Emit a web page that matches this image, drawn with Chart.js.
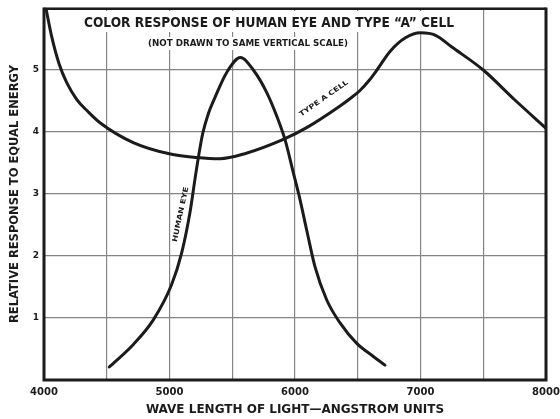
<!DOCTYPE html>
<html>
<head>
<meta charset="utf-8">
<script src="https://cdn.jsdelivr.net/npm/chart.js@4.4.1/dist/chart.umd.min.js"></script>
<style>
html,body{margin:0;padding:0;background:#fff;overflow:hidden;}
canvas{display:block;}
</style>
</head>
<body>
<canvas id="responseChart" width="560" height="419"></canvas>
<script>
// wave length (angstrom) / relative response
const eyeWave = [4520, 4710, 4871, 5017, 5097, 5163, 5203, 5230, 5265, 5310, 5363, 5456, 5565, 5668, 5774, 5854, 5920, 5987, 6040, 6093, 6159, 6253, 6359, 6492, 6624, 6717];
const eyeResp = [0.21, 0.57, 0.97, 1.54, 2.05, 2.7, 3.24, 3.59, 3.98, 4.3, 4.56, 4.96, 5.2, 5.0, 4.64, 4.26, 3.88, 3.34, 2.91, 2.42, 1.83, 1.29, 0.92, 0.59, 0.38, 0.24];

const cellWave = [4015, 4060, 4120, 4180, 4263, 4350, 4446, 4711, 5017, 5216, 5402, 5600, 5907, 6093, 6359, 6440, 6518, 6590, 6653, 6757, 6880, 7000, 7120, 7250, 7500, 7750, 8000];
const cellResp = [6.0, 5.55, 5.1, 4.8, 4.52, 4.33, 4.15, 3.83, 3.64, 3.59, 3.57, 3.65, 3.88, 4.07, 4.42, 4.54, 4.67, 4.83, 5.0, 5.3, 5.52, 5.6, 5.56, 5.37, 5.0, 4.52, 4.06];

const xLabels = [4000, 5000, 6000, 7000, 8000];
const yLabels = [1, 2, 3, 4, 5];

const ink = '#1b1b1b';
const face = 'DejaVu Sans';

function toPoints(xs, ys) {
  return xs.map((x, i) => ({ x: x, y: ys[i] }));
}

// text squeezed/stretched to a given width, optionally rotated
function fitText(ctx, text, x, y, width, size, angle) {
  ctx.save();
  ctx.font = 'bold ' + size + 'px "' + face + '"';
  ctx.translate(x, y);
  if (angle) ctx.rotate(angle * Math.PI / 180);
  const w = ctx.measureText(text).width;
  ctx.scale(width / w, 1);
  ctx.textAlign = 'center';
  ctx.textBaseline = 'middle';
  ctx.fillStyle = ink;
  ctx.fillText(text, 0, 0);
  ctx.restore();
}

const framePlugin = {
  id: 'frame',
  beforeDatasetsDraw(chart) {
    const ctx = chart.ctx;
    const a = chart.chartArea;
    const xs = chart.scales.x, ys = chart.scales.y;

    // title blocks sit on white over the grid
    ctx.save();
    ctx.fillStyle = '#fff';
    ctx.fillRect(80, 11, 378, 21);
    ctx.fillRect(144, 37, 208, 13);
    ctx.restore();
    fitText(ctx, 'COLOR RESPONSE OF HUMAN EYE AND TYPE \u201CA\u201D CELL', 269, 23, 370, 14);
    fitText(ctx, '(NOT DRAWN TO SAME VERTICAL SCALE)', 248, 43.5, 200, 8);

    // curve names
    fitText(ctx, 'TYPE A CELL', xs.getPixelForValue(6230), ys.getPixelForValue(4.54), 58, 7, -35);
    fitText(ctx, 'HUMAN EYE', xs.getPixelForValue(5090), ys.getPixelForValue(2.67), 56, 7, -78);

    // heavy border
    ctx.save();
    ctx.strokeStyle = ink;
    ctx.lineCap = 'square';
    ctx.lineWidth = 3;
    ctx.beginPath();
    ctx.moveTo(a.left, a.top + 1);
    ctx.lineTo(a.left, a.bottom);
    ctx.lineTo(a.right, a.bottom);
    ctx.lineTo(a.right, a.top + 1);
    ctx.stroke();
    ctx.lineWidth = 2;
    ctx.beginPath();
    ctx.moveTo(a.left, a.top + 1);
    ctx.lineTo(a.right, a.top + 1);
    ctx.stroke();
    ctx.restore();
  }
};

const ctx = document.getElementById('responseChart').getContext('2d');
const responseChart = new Chart(ctx, {
  type: 'line',
  data: {
    datasets: [
      {
        label: 'Human eye',
        data: toPoints(eyeWave, eyeResp),
        borderColor: ink,
        borderWidth: 3,
        borderCapStyle: 'round',
        pointRadius: 0,
        cubicInterpolationMode: 'monotone',
        fill: false,
      },
      {
        label: 'Type A cell',
        data: toPoints(cellWave, cellResp),
        borderColor: ink,
        borderWidth: 3,
        borderCapStyle: 'round',
        pointRadius: 0,
        cubicInterpolationMode: 'monotone',
        fill: false,
      },
    ],
  },
  options: {
    responsive: false,
    animation: false,
    events: [],
    layout: { autoPadding: false, padding: { top: 8, right: 14, left: 0, bottom: 0 } },
    plugins: { legend: { display: false }, tooltip: { enabled: false } },
    scales: {
      x: {
        type: 'linear',
        min: 4000,
        max: 8000,
        afterFit: (s) => { s.height = 39; s.paddingLeft = 0; s.paddingRight = 0; },
        grid: { color: '#858585', lineWidth: 1.2, drawTicks: false },
        border: { display: false },
        ticks: {
          stepSize: 500,
          padding: 6,
          color: ink,
          font: { family: face, size: 10, weight: 'bold' },
          maxRotation: 0,
          autoSkip: false,
          callback: (v) => xLabels.includes(v) ? String(v) : '',
        },
        title: {
          display: true,
          text: 'WAVE LENGTH OF LIGHT\u2014ANGSTROM UNITS',
          color: ink,
          font: { family: face, size: 12, weight: 'bold' },
          padding: { top: 0, bottom: 2 },
        },
      },
      y: {
        min: 0,
        max: 6,
        afterFit: (s) => { s.width = 44; s.paddingTop = 0; s.paddingBottom = 0; },
        grid: { color: '#858585', lineWidth: 1.2, drawTicks: false },
        border: { display: false },
        ticks: {
          stepSize: 1,
          padding: 5,
          color: ink,
          font: { family: face, size: 9, weight: 'bold' },
          callback: (v) => yLabels.includes(v) ? String(v) : '',
        },
        title: {
          display: true,
          text: 'RELATIVE RESPONSE TO EQUAL ENERGY',
          color: ink,
          font: { family: face, size: 11.5, weight: 'bold' },
          padding: { top: 8, bottom: 0 },
        },
      },
    },
  },
  plugins: [framePlugin],
});
</script>
</body>
</html>
